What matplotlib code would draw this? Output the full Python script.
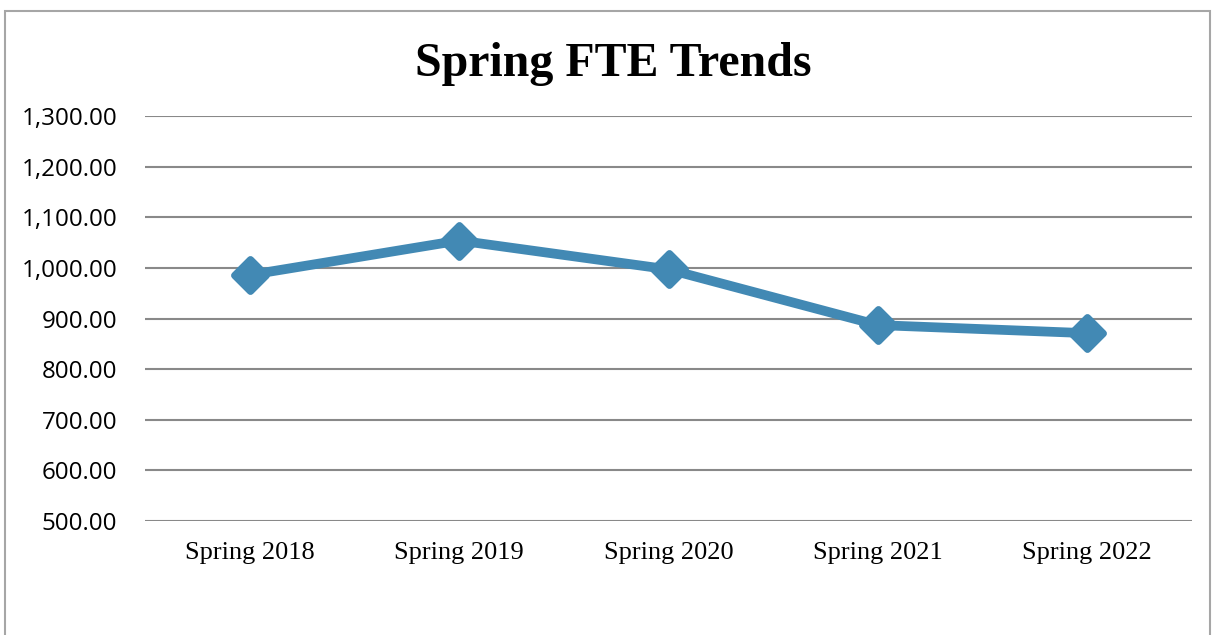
import matplotlib
matplotlib.use("Agg")
import matplotlib.pyplot as plt
from matplotlib.patches import Rectangle
from matplotlib.markers import MarkerStyle
from matplotlib.ticker import FuncFormatter

# Daten
terms = ["Spring 2018", "Spring 2019", "Spring 2020", "Spring 2021", "Spring 2022"]
fte = [986, 1054, 997, 887, 871]
y_ticks = [500, 600, 700, 800, 900, 1000, 1100, 1200, 1300]

fig = plt.figure(figsize=(12.13, 6.35), dpi=100)
ax = fig.add_axes([145 / 1213, 1 - 521 / 635, 1047 / 1213, 405 / 635])

# Rahmen um das Diagramm
fig.patches.append(Rectangle((5 / 1213, -0.05), 1205 / 1213, 1 - 11 / 635 + 0.05,
                             transform=fig.transFigure, fill=False,
                             edgecolor="#a6a6a6", linewidth=1.5))

x = list(range(len(terms)))
ax.plot(x, fte, color="#4289b4", linewidth=7, marker=MarkerStyle("D", joinstyle="round"),
        markersize=16, markeredgewidth=5, markeredgecolor="#4289b4",
        solid_joinstyle="round", solid_capstyle="round")

ax.set_xlim(-0.5, len(terms) - 0.5)
ax.set_ylim(500, 1300)
ax.set_yticks(y_ticks)
ax.yaxis.set_major_formatter(FuncFormatter(lambda v, p: f"{v:,.2f}"))
ax.set_xticks(x)
ax.set_xticklabels(terms, family="Liberation Serif", fontsize=19)
for lab in ax.get_yticklabels():
    lab.set_family(["Open Sans", "DejaVu Sans"])
    lab.set_fontsize(17.4)

ax.grid(axis="y", color="#898989", linewidth=1.5)
ax.set_axisbelow(True)
for s in ax.spines.values():
    s.set_visible(False)
ax.tick_params(axis="both", length=0)
ax.tick_params(axis="y", pad=20)
ax.tick_params(axis="x", pad=15)

fig.text(613 / 1213, 1 - 64 / 635, "Spring FTE Trends", ha="center", va="center",
         family="Liberation Serif", fontweight="bold", fontsize=34.5)

fig.savefig("out.png", dpi=100)
plt.close()
